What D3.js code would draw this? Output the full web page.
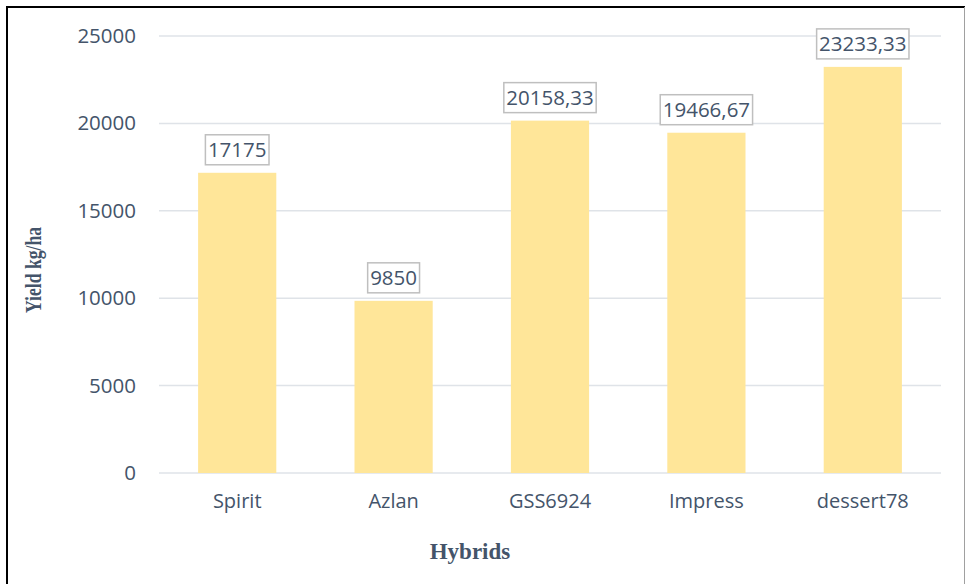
<!DOCTYPE html>
<html>
<head>
<meta charset="utf-8">
<script src="https://cdn.jsdelivr.net/npm/d3@7"></script>
<style>
  body { margin: 0; background: #fff; }
  svg { display: block; }
</style>
</head>
<body>
<script>
'use strict';

// chart data
const hybrids = ['Spirit', 'Azlan', 'GSS6924', 'Impress', 'dessert78'];
const yieldValues = [17175, 9850, 20158.33, 19466.67, 23233.33];
const yieldLabels = ['17175', '9850', '20158,33', '19466,67', '23233,33'];
const yTicks = [0, 5000, 10000, 15000, 20000, 25000];

const width = 970, height = 584;
const textColor = '#44546a';

const svg = d3.select('body').append('svg')
    .attr('width', width)
    .attr('height', height);

// frame
svg.append('line')
    .attr('x1', 7).attr('y1', 7).attr('x2', 7).attr('y2', height)
    .style('stroke', '#000').style('stroke-width', 2);
svg.append('line')
    .attr('x1', 6).attr('y1', 7).attr('x2', 965).attr('y2', 7)
    .style('stroke', '#000').style('stroke-width', 2);
svg.append('line')
    .attr('x1', 964.5).attr('y1', 7).attr('x2', 964.5).attr('y2', height)
    .style('stroke', '#a0a0a0').style('stroke-width', 1);

const xScale = d3.scaleBand()
    .domain(hybrids)
    .range([159, 941])
    .paddingInner(0.5)
    .paddingOuter(0.25);

const yScale = d3.scaleLinear()
    .domain([0, 25000])
    .range([473, 36]);

// gridlines
svg.append('g')
    .selectAll('line')
    .data(yTicks)
    .enter()
    .append('line')
    .attr('x1', 159)
    .attr('x2', 941)
    .attr('y1', (d) => yScale(d))
    .attr('y2', (d) => yScale(d))
    .style('stroke', '#dfe3e8')
    .style('stroke-width', 1.5);

// y axis labels
const yAxis = d3.axisLeft(yScale)
    .tickValues(yTicks)
    .tickSize(0)
    .tickPadding(23)
    .tickFormat(d3.format('d'));
const gy = svg.append('g')
    .attr('transform', 'translate(159, 0)')
    .call(yAxis);
gy.select('.domain').remove();
gy.selectAll('text')
    .style('font-family', '"Open Sans", sans-serif')
    .style('font-size', '20.5px')
    .style('fill', textColor);

// x axis labels
const xAxis = d3.axisBottom(xScale).tickSize(0).tickPadding(21);
const gx = svg.append('g')
    .attr('transform', 'translate(0, 473)')
    .call(xAxis);
gx.select('.domain').remove();
gx.selectAll('text')
    .style('font-family', '"Open Sans", sans-serif')
    .style('font-size', '20px')
    .style('fill', textColor);

// bars
svg.selectAll('.bar')
    .data(hybrids)
    .enter()
    .append('rect')
    .attr('class', 'bar')
    .attr('x', (d) => xScale(d))
    .attr('y', (d, i) => yScale(yieldValues[i]))
    .attr('width', xScale.bandwidth())
    .attr('height', (d, i) => yScale(0) - yScale(yieldValues[i]))
    .style('fill', '#ffe699');

// data labels with boxes
const labels = svg.selectAll('.label')
    .data(hybrids)
    .enter()
    .append('g')
    .attr('class', 'label');

labels.append('text')
    .attr('x', (d) => xScale(d) + xScale.bandwidth() / 2)
    .attr('y', (d, i) => yScale(yieldValues[i]) - 23)
    .attr('dy', '0.35em')
    .style('text-anchor', 'middle')
    .style('font-family', '"Open Sans", sans-serif')
    .style('font-size', '20.5px')
    .style('fill', textColor)
    .text((d, i) => yieldLabels[i]);

labels.each(function() {
    const g = d3.select(this);
    const bb = g.select('text').node().getBBox();
    const cy = parseFloat(g.select('text').attr('y'));
    g.insert('rect', 'text')
        .attr('x', bb.x - 2.5)
        .attr('y', cy - 15)
        .attr('width', bb.width + 5)
        .attr('height', 30)
        .style('fill', '#fff')
        .style('stroke', '#bfbfbf')
        .style('stroke-width', 1.5);
});

// axis titles
svg.append('text')
    .attr('x', 470)
    .attr('y', 559)
    .style('text-anchor', 'middle')
    .style('font-family', '"Liberation Serif", "Times New Roman", serif')
    .style('font-weight', 'bold')
    .style('font-size', '23px')
    .style('fill', textColor)
    .text('Hybrids');

svg.append('text')
    .attr('transform', 'translate(41, 270)rotate(-90)')
    .attr('textLength', 86)
    .attr('lengthAdjust', 'spacingAndGlyphs')
    .style('text-anchor', 'middle')
    .style('font-family', '"Liberation Serif", "Times New Roman", serif')
    .style('font-weight', 'bold')
    .style('font-size', '24px')
    .style('fill', textColor)
    .text('Yield kg/ha');
</script>
</body>
</html>
